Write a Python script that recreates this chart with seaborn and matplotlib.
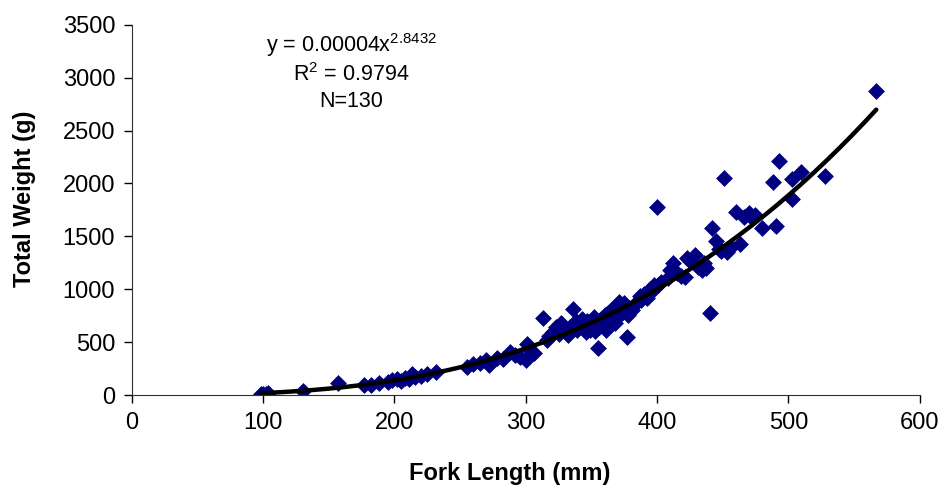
import numpy as np
import matplotlib
matplotlib.use("Agg")
import matplotlib.pyplot as plt
import seaborn as sns
import pandas as pd

# fork length (mm) and total weight (g)
fork_length = [98, 100, 102, 104, 130,
               157, 177, 182, 188, 195, 198, 202, 205, 208, 211, 213, 216, 220, 225, 232,
               255, 260, 265, 270, 272, 278, 283, 288, 292, 296, 300, 301, 303, 306,
               313, 316, 318, 321, 323, 325, 327, 330, 332, 334, 336, 338, 339, 341, 343, 344, 346, 347, 349, 350,
               351, 352, 353, 355, 355, 356, 357, 358, 359, 360, 361, 362, 363, 364, 365, 366, 367, 368, 369, 370,
               371, 372, 373, 375, 377, 378, 379, 381, 383, 385, 387, 388, 390, 392, 395, 396, 398,
               400, 401, 403, 408, 410, 412, 415, 418, 421, 423, 425, 429, 431, 434, 436, 437, 440, 442, 445, 447, 449,
               451, 453, 456, 460, 463, 466, 470, 472, 475, 480, 488, 491, 493, 503, 503, 510, 528, 567]
total_weight = [15, 8, 12, 18, 40,
                110, 95, 100, 110, 125, 140, 150, 130, 165, 155, 200, 175, 180, 200, 215,
                270, 290, 300, 330, 285, 350, 340, 410, 380, 360, 335, 480, 430, 400,
                730, 520, 560, 600, 640, 580, 680, 610, 570, 640, 810, 700, 620, 680, 720, 650, 600, 700, 620, 660,
                700, 740, 610, 450, 680, 640, 720, 700, 660, 760, 620, 720, 780, 690, 800, 750, 720, 680, 840, 760,
                880, 830, 780, 870, 549, 760, 820, 800, 860, 880, 940, 900, 960, 920, 1000, 980, 1040,
                1780, 1040, 1070, 1110, 1180, 1250, 1150, 1130, 1120, 1300, 1270, 1320, 1210, 1180, 1250, 1200, 776, 1580, 1460, 1380, 1360,
                2050, 1350, 1400, 1730, 1430, 1680, 1720, 1670, 1700, 1580, 2010, 1600, 2210, 1850, 2040, 2110, 2070, 2870]

# power trendline printed on the chart
coef_a = 0.00004
coef_b = 2.8432
r_squared = 0.9794

df = pd.DataFrame({'fork': fork_length, 'weight': total_weight})

sns.set_style("ticks")
plt.rcParams['font.family'] = ['Liberation Sans', 'DejaVu Sans']
plt.rcParams['mathtext.fontset'] = 'custom'
plt.rcParams['mathtext.rm'] = 'Liberation Sans'
plt.rcParams['mathtext.it'] = 'Liberation Sans'
plt.rcParams['text.color'] = 'black'
plt.rcParams['axes.labelcolor'] = 'black'

fig = plt.figure(figsize=(9.49, 4.86), dpi=100)
ax = fig.add_axes([0.139, 0.187, 0.830, 0.762])

sns.scatterplot(data=df, x='fork', y='weight', marker='D', s=65, color='#000080',
                edgecolor='#000080', linewidth=0.5, ax=ax, zorder=2)

xs = np.linspace(min(fork_length), max(fork_length), 200)
trend = pd.DataFrame({'fork': xs, 'weight': coef_a * xs ** coef_b})
sns.lineplot(data=trend, x='fork', y='weight', color='black', linewidth=3.2, ax=ax, zorder=3)

ax.set_xlim(0, 600)
ax.set_ylim(0, 3500)
ax.set_xticks(range(0, 601, 100))
ax.set_yticks(range(0, 3501, 500))
ax.tick_params(labelsize=17, length=6, width=1, colors='black', pad=6)
ax.set_xlabel('Fork Length (mm)', fontsize=17, fontweight='bold')
ax.set_ylabel('Total Weight (g)', fontsize=17, fontweight='bold')
ax.xaxis.set_label_coords(0.48, -0.18)
ax.yaxis.set_label_coords(-0.122, 0.53)
sns.despine(ax=ax)
for sp in ['left', 'bottom']:
    ax.spines[sp].set_color('#303030')

ax.text(167, 3311, 'y = %.5fx$^{%s}$' % (coef_a, coef_b), ha='center', va='center', fontsize=15.5)
ax.text(167, 3027, 'R$^{2}$ = %s' % r_squared, ha='center', va='center', fontsize=15.5)
ax.text(167, 2772, 'N=%d' % len(fork_length), ha='center', va='center', fontsize=15.5)

fig.savefig('out.png', dpi=100)
